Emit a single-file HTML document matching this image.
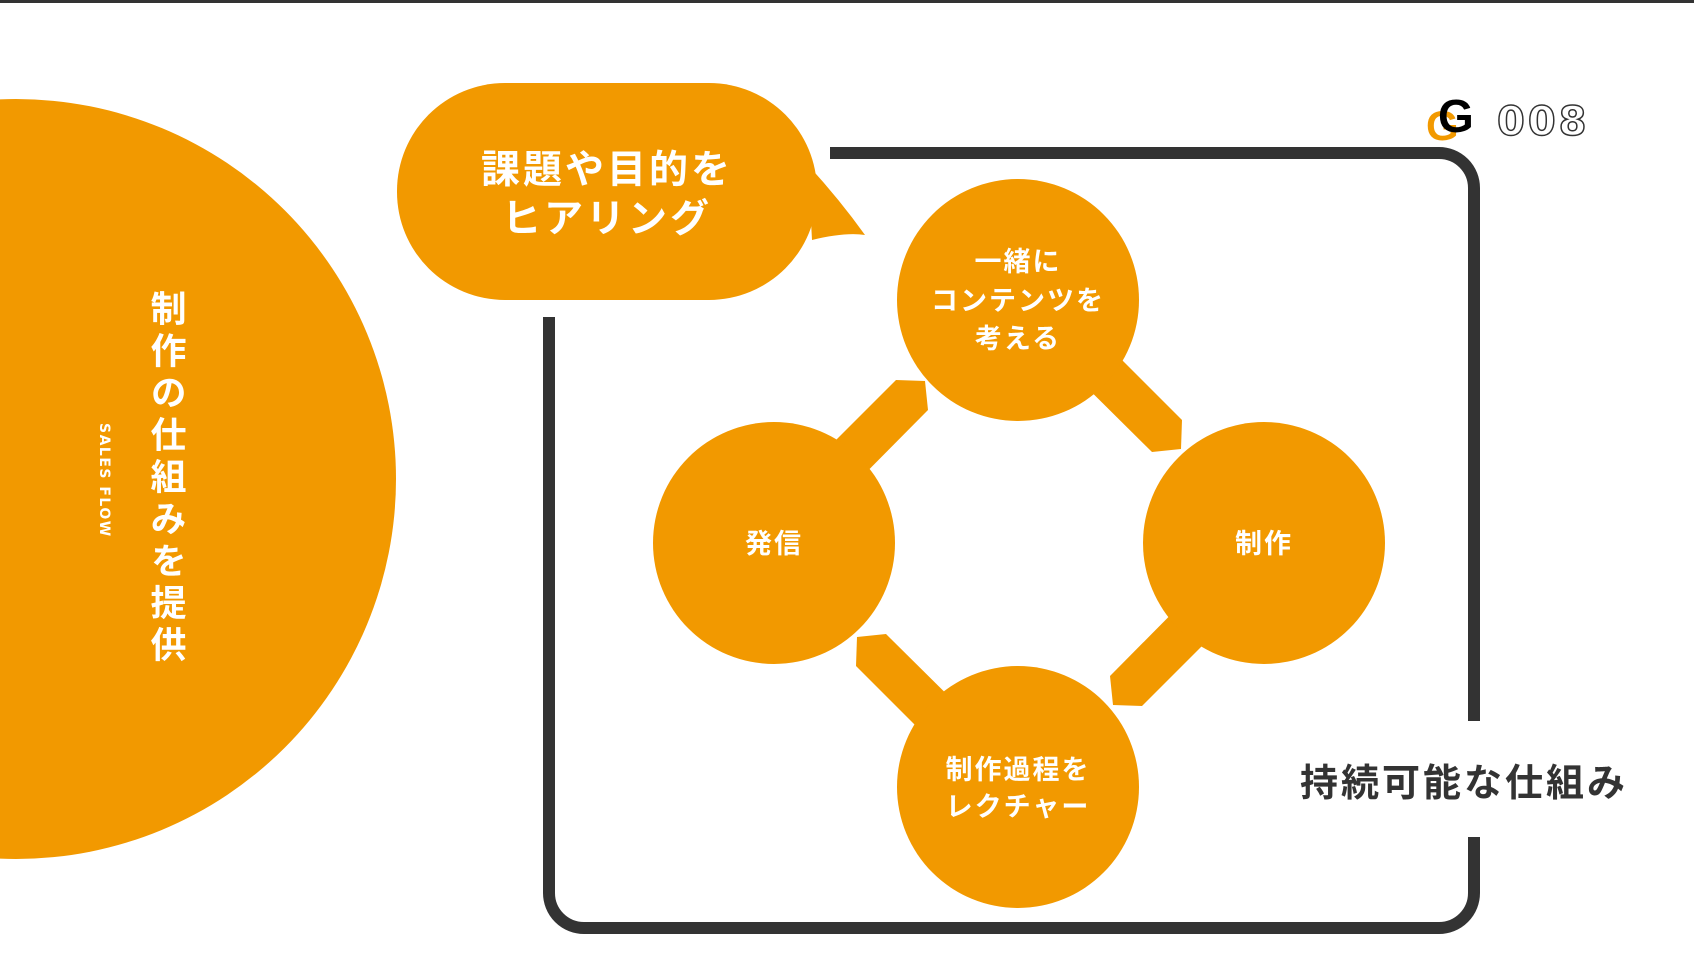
<!DOCTYPE html>
<html><head><meta charset="utf-8"><style>
html,body{margin:0;padding:0;background:#fff;}
body{width:1694px;height:956px;overflow:hidden;position:relative;}
svg{position:absolute;left:0;top:0;}
text{font-family:"Liberation Sans","Noto Sans CJK JP",sans-serif;font-weight:bold;}
</style></head><body>
<svg width="1694" height="956" viewBox="0 0 1694 956">
<rect x="0" y="0" width="1694" height="3" fill="#333"/>
<circle cx="16" cy="479" r="380" fill="#F29900"/>
<text x="0" y="0" transform="translate(166,290)" fill="#fff" font-size="36" style="writing-mode:vertical-rl;letter-spacing:6px">制作の仕組みを提供</text>
<text transform="translate(98,423) rotate(90)" fill="#fff" font-size="14" letter-spacing="1.5" x="0" y="-2" style="font-family:'DejaVu Sans',sans-serif;font-weight:bold">SALES FLOW</text>
<path d="M830 153 H1439 A35 35 0 0 1 1474 188 V721 M1474 837 V893 A35 35 0 0 1 1439 928 H584 A35 35 0 0 1 549 893 V317" fill="none" stroke="#333" stroke-width="12"/>
<rect x="397" y="83" width="420" height="217" rx="108" fill="#F29900"/>
<path d="M808 165 Q840 200 865 235 Q845 232 812 240 Z" fill="#F29900"/>
<text x="607" y="183" fill="#fff" font-size="39" text-anchor="middle" letter-spacing="3">課題や目的を</text>
<text x="607" y="232" fill="#fff" font-size="39" text-anchor="middle" letter-spacing="3">ヒアリング</text>
<g fill="#F29900">
<polygon points="1076,314 1182,420 1181,449 1152,452 1045,346"/>
<polygon points="1076,314 1182,420 1181,449 1152,452 1045,346" transform="rotate(90 1019 543)"/>
<polygon points="1076,314 1182,420 1181,449 1152,452 1045,346" transform="rotate(180 1019 543)"/>
<polygon points="1076,314 1182,420 1181,449 1152,452 1045,346" transform="rotate(270 1019 543)"/>
<circle cx="1018" cy="300" r="121"/>
<circle cx="774" cy="543" r="121"/>
<circle cx="1264" cy="543" r="121"/>
<circle cx="1018" cy="787" r="121"/>
</g>
<g fill="#fff" font-size="27" text-anchor="middle" letter-spacing="2">
<text x="1018" y="271">一緒に</text>
<text x="1018" y="310">コンテンツを</text>
<text x="1018" y="348">考える</text>
<text x="774" y="553">発信</text>
<text x="1264" y="553">制作</text>
<text x="1018" y="779">制作過程を</text>
<text x="1018" y="816">レクチャー</text>
</g>
<text x="1300" y="796" fill="#333" font-size="38" letter-spacing="3">持続可能な仕組み</text>
<text x="1426" y="140" fill="#F29900" font-size="42" style="font-family:'Liberation Sans',sans-serif">G</text>
<text x="1438" y="132" fill="#000" font-size="46" style="font-family:'Liberation Sans',sans-serif">G</text>
<text x="1497" y="135" fill="#fff" stroke="#333" stroke-width="1.5" font-size="40" letter-spacing="3" style="font-family:'DejaVu Sans',sans-serif">008</text>
</svg>
</body></html>
